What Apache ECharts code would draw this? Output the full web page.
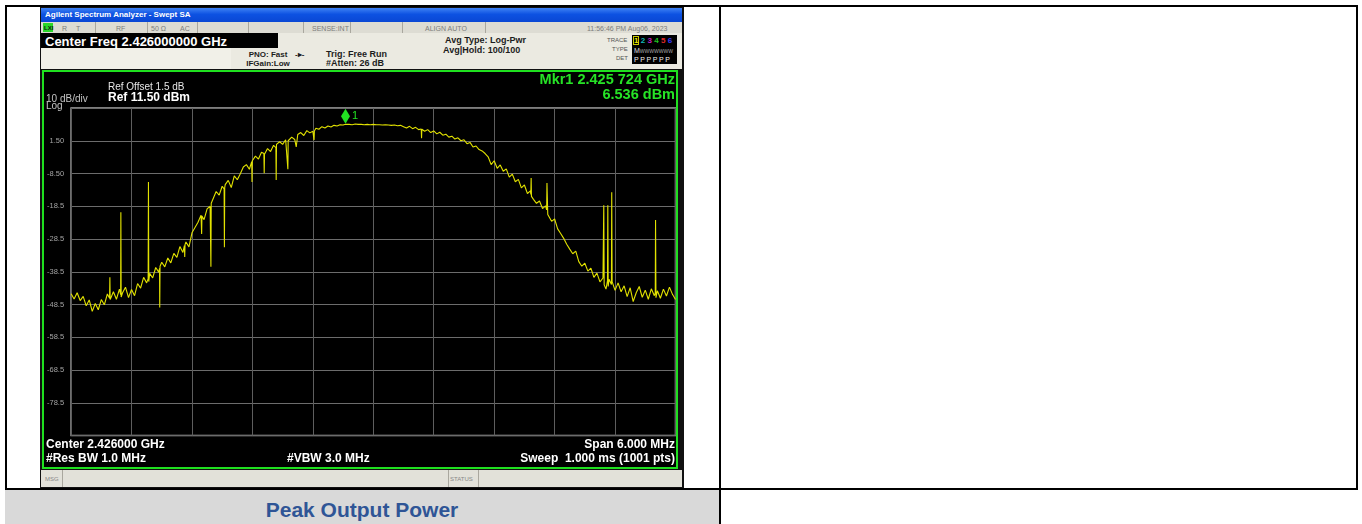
<!DOCTYPE html>
<html>
<head>
<meta charset="utf-8">
<script src="https://cdn.jsdelivr.net/npm/echarts@6/dist/echarts.min.js"></script>
<style>
html, body { margin: 0; padding: 0; background: #fff; }
body { width: 1362px; height: 524px; position: relative; overflow: hidden; font-family: "Liberation Sans", Arial, sans-serif; }
.abs { position: absolute; }
.t { position: absolute; white-space: nowrap; line-height: 1; transform: translateY(-50%); }
.menu { font-size: 7px; color: #7c7c7c; }
.div { position: absolute; width: 1px; background: #a9a79e; }
.hdr { font-weight: bold; font-size: 9px; color: #1c1c1c; }
#chart { position: absolute; left: 44px; top: 72px; width: 632px; height: 395px; }
</style>
</head>
<body>
<!-- table lines -->
<div class="abs" style="left:5px;top:5px;width:1353px;height:2px;background:#000"></div>
<div class="abs" style="left:5px;top:5px;width:2px;height:485px;background:#000"></div>
<div class="abs" style="left:1356px;top:5px;width:2px;height:485px;background:#000"></div>
<div class="abs" style="left:5px;top:490px;width:714px;height:34px;background:#d9d9d9"></div>
<div class="abs" style="left:5px;top:488px;width:1353px;height:2px;background:#000"></div>
<div class="abs" style="left:719px;top:5px;width:2px;height:519px;background:#000"></div>
<div class="t" style="left:5px;width:714px;top:509px;text-align:center;font-weight:bold;font-size:21px;color:#2f5596">Peak Output Power</div>

<!-- analyzer screenshot frame -->
<div class="abs" style="left:40px;top:7px;width:644px;height:481px;background:#111"></div>
<div class="abs" style="left:41px;top:8px;width:641px;height:14px;background:linear-gradient(#3f82f4,#0d52e2 45%,#0a47d4)"></div>
<div class="t" style="left:45px;top:15px;font-weight:bold;font-size:8px;color:#fff">Agilent Spectrum Analyzer - Swept SA</div>

<!-- menu row -->
<div class="abs" style="left:41px;top:22px;width:641px;height:11px;background:#dddcd3"></div>
<div class="abs" style="left:43px;top:23px;width:10px;height:9px;background:#2ad82a"></div>
<div class="t" style="left:44px;top:27.5px;font-size:6px;font-weight:bold;color:#111">LXI</div>
<div class="t menu" style="left:62px;top:27.5px">R</div>
<div class="t menu" style="left:76px;top:27.5px">T</div>
<div class="div" style="left:95px;top:22px;height:11px"></div>
<div class="t menu" style="left:116px;top:27.5px">RF</div>
<div class="div" style="left:147px;top:22px;height:11px"></div>
<div class="t menu" style="left:151px;top:27.5px">50 Ω</div>
<div class="t menu" style="left:180px;top:27.5px">AC</div>
<div class="div" style="left:197px;top:22px;height:11px"></div>
<div class="div" style="left:248px;top:22px;height:11px"></div>
<div class="div" style="left:303px;top:22px;height:11px"></div>
<div class="t menu" style="left:312px;top:27.5px">SENSE:INT</div>
<div class="div" style="left:350px;top:22px;height:11px"></div>
<div class="div" style="left:402px;top:22px;height:11px"></div>
<div class="t menu" style="left:425px;top:27.5px">ALIGN AUTO</div>
<div class="div" style="left:485px;top:22px;height:11px"></div>
<div class="t menu" style="left:587px;top:27.5px">11:56:46 PM Aug06, 2023</div>

<!-- settings panel -->
<div class="abs" style="left:41px;top:33px;width:641px;height:36px;background:#ebeae1"></div>
<div class="abs" style="left:41px;top:48px;width:190px;height:21px;background:#f1f0e8"></div>
<div class="abs" style="left:41px;top:33px;width:237px;height:15px;background:#000"></div>
<div class="t" style="left:45px;top:41px;font-weight:bold;font-size:13px;color:#fff">Center Freq 2.426000000 GHz</div>
<div class="t hdr" style="left:248px;width:40px;text-align:center;top:55px;font-size:8px">PNO: Fast</div>
<div class="t hdr" style="left:244px;width:48px;text-align:center;top:64px;font-size:8px">IFGain:Low</div>
<div class="t hdr" style="left:295px;top:55px;font-size:8px">-▸-</div>
<div class="t hdr" style="left:326px;top:54px">Trig: Free Run</div>
<div class="t hdr" style="left:326px;top:63px">#Atten: 26 dB</div>
<div class="t hdr" style="left:445px;top:40px">Avg Type: Log-Pwr</div>
<div class="t hdr" style="left:443px;top:50px">Avg|Hold: 100/100</div>
<div class="t" style="left:607px;top:40px;font-size:6px;color:#555">TRACE</div>
<div class="t" style="left:612px;top:49px;font-size:6px;color:#555">TYPE</div>
<div class="t" style="left:616px;top:58px;font-size:6px;color:#555">DET</div>
<div class="abs" style="left:632px;top:35px;width:45px;height:29px;background:#000"></div>
<div class="abs" style="left:633px;top:36px;width:6px;height:9px;border:1px solid #c8c800;box-sizing:border-box"></div>
<div class="t" style="left:634px;top:40.5px;font-size:8px;font-weight:bold;letter-spacing:2.3px">
<span style="color:#e8e800">1</span><span style="color:#10b8b8">2</span><span style="color:#c020c0">3</span><span style="color:#20c020">4</span><span style="color:#e02a2a">5</span><span style="color:#3b3bf0">6</span></div>
<div class="t" style="left:634px;top:49.5px;font-size:7px;color:#ddd">M<span style="font-size:5px;color:#aaa">WWWWWWW</span></div>
<div class="t" style="left:634px;top:58.5px;font-size:7px;color:#eee;letter-spacing:1.6px">PPPPPP</div>

<!-- graph window -->
<div class="abs" style="left:42px;top:70px;width:636px;height:399px;border:2px solid #1fe01f;box-sizing:border-box;background:#000"></div>
<div id="chart"></div>

<!-- message row -->
<div class="abs" style="left:41px;top:470px;width:641px;height:17px;background:#e2e1d9"></div>
<div class="t" style="left:45px;top:478.5px;font-size:6px;color:#888">MSG</div>
<div class="div" style="left:62px;top:470px;height:17px"></div>
<div class="div" style="left:448px;top:470px;height:17px"></div>
<div class="t" style="left:450px;top:478.5px;font-size:6px;color:#888">STATUS</div>
<div class="div" style="left:478px;top:470px;height:17px"></div>

<script>
// analyzer settings
const centerGHz = 2.426;
const spanMHz = 6;
const refLevelDbm = 11.5;
const refOffsetDb = 1.5;
const dbPerDiv = 10;
const rbwMHz = 1.0;
const vbwMHz = 3.0;
const sweepMs = 1.0;
const sweepPts = 1001;

// marker 1
const markerGHz = 2.425724;
const markerDbm = 6.536;

// trace: [offset from center (MHz), level (dBm)]
const trace = [
  [-3.00,-45.2],[-2.97,-46.8],[-2.94,-44.9],[-2.91,-47.3],[-2.88,-46.0],[-2.85,-48.9],[-2.82,-47.1],[-2.79,-50.6],
  [-2.76,-48.2],[-2.73,-50.1],[-2.70,-47.0],[-2.67,-48.6],[-2.64,-45.3],
  [-2.618,-46.6],[-2.615,-40.2],[-2.612,-47.0],
  [-2.58,-44.6],[-2.55,-46.9],[-2.52,-43.8],
  [-2.508,-45.5],[-2.506,-20.3],[-2.503,-46.2],
  [-2.49,-45.0],[-2.46,-43.2],[-2.43,-46.4],[-2.40,-43.9],[-2.37,-45.8],[-2.34,-42.1],[-2.31,-43.5],[-2.28,-40.2],[-2.25,-41.9],
  [-2.235,-40.6],[-2.232,-11.1],[-2.229,-41.5],
  [-2.22,-39.0],[-2.19,-40.4],[-2.16,-37.2],[-2.13,-38.6],
  [-2.122,-37.5],[-2.120,-49.4],[-2.117,-36.8],
  [-2.10,-35.6],[-2.07,-37.0],[-2.04,-34.3],[-2.01,-35.8],[-1.98,-32.9],[-1.95,-34.1],[-1.92,-30.8],[-1.89,-32.6],
  [-1.875,-30.5],[-1.872,-34.0],[-1.869,-30.2],
  [-1.86,-29.4],[-1.83,-30.9],[-1.80,-26.6],[-1.77,-25.0],[-1.74,-23.4],[-1.71,-21.2],
  [-1.707,-21.8],[-1.704,-27.0],[-1.701,-21.5],
  [-1.68,-22.6],[-1.65,-19.3],[-1.62,-18.5],
  [-1.615,-19.0],[-1.612,-37.0],[-1.609,-17.6],
  [-1.59,-16.2],[-1.56,-14.0],[-1.53,-15.1],[-1.50,-12.4],
  [-1.481,-13.2],[-1.478,-31.0],[-1.475,-12.8],
  [-1.47,-11.9],[-1.44,-10.6],[-1.41,-12.8],[-1.38,-9.2],[-1.35,-10.4],[-1.32,-8.6],[-1.29,-6.5],[-1.26,-5.8],[-1.23,-7.2],
  [-1.207,-4.9],[-1.204,-11.1],[-1.201,-4.6],
  [-1.17,-3.2],[-1.14,-4.1],[-1.11,-2.0],
  [-1.086,-2.4],[-1.083,-8.4],[-1.080,-2.6],
  [-1.05,-0.9],[-1.02,-1.8],[-0.99,0.1],
  [-0.967,-0.6],[-0.964,-10.5],[-0.961,0.4],
  [-0.93,1.2],[-0.90,0.4],[-0.87,1.8],
  [-0.851,1.3],[-0.848,-7.2],[-0.845,1.5],
  [-0.81,2.6],[-0.78,1.9],[-0.765,-0.4],[-0.75,3.4],[-0.72,4.0],[-0.69,3.1],[-0.66,4.6],[-0.63,3.9],[-0.60,4.4],
  [-0.591,4.8],[-0.588,1.7],[-0.585,4.5],
  [-0.57,5.3],[-0.54,5.0],[-0.51,5.8],[-0.48,5.4],[-0.45,6.0],[-0.42,5.7],[-0.39,6.2],[-0.36,6.0],[-0.33,6.4],[-0.30,6.3],
  [-0.276,6.54],[-0.24,6.5],[-0.21,6.4],[-0.18,6.6],[-0.15,6.5],[-0.12,6.5],[-0.09,6.4],[-0.06,6.5],[-0.03,6.4],[0.00,6.5],
  [0.03,6.4],[0.06,6.4],[0.09,6.3],[0.12,6.4],[0.15,6.3],[0.18,6.2],[0.21,6.3],[0.24,6.1],[0.27,6.2],[0.30,5.8],
  [0.33,5.4],[0.36,5.9],[0.39,5.2],[0.42,5.6],[0.45,4.9],
  [0.476,5.1],[0.479,2.3],[0.482,5.0],
  [0.51,4.4],[0.54,4.9],[0.57,4.0],[0.60,4.5],[0.63,3.6],[0.66,4.1],[0.69,3.2],[0.72,3.5],[0.75,2.6],[0.78,2.9],
  [0.81,2.0],[0.84,2.4],[0.87,1.5],[0.90,1.8],[0.93,0.6],[0.96,1.0],[0.99,-0.4],[1.02,-0.1],[1.05,-1.2],[1.08,-1.6],
  [1.11,-2.4],[1.14,-3.4],[1.17,-5.8],[1.20,-4.6],[1.23,-6.9],[1.26,-5.9],[1.29,-7.8],[1.32,-7.1],[1.35,-9.6],[1.38,-8.7],
  [1.41,-11.0],[1.44,-10.3],[1.47,-12.9],[1.50,-12.0],[1.53,-14.6],[1.56,-13.8],
  [1.564,-14.9],[1.567,-9.9],[1.570,-15.5],
  [1.59,-16.4],[1.62,-17.6],[1.65,-16.9],[1.68,-19.2],[1.71,-18.4],
  [1.721,-19.6],[1.724,-11.4],[1.729,-11.6],[1.732,-21.0],
  [1.74,-20.6],[1.77,-23.1],[1.80,-22.4],[1.83,-25.4],[1.86,-26.8],[1.89,-28.3],[1.92,-30.1],[1.95,-31.6],[1.98,-33.0],
  [2.01,-32.2],[2.04,-35.4],[2.07,-36.8],[2.10,-35.9],[2.13,-38.3],[2.16,-37.4],[2.19,-40.2],[2.22,-38.9],[2.25,-41.6],[2.28,-40.4],
  [2.285,-41.0],[2.288,-18.2],[2.292,-42.5],
  [2.31,-43.8],
  [2.325,-41.2],[2.328,-18.2],[2.332,-43.0],
  [2.34,-40.8],
  [2.364,-42.4],[2.367,-14.2],[2.371,-41.5],
  [2.40,-44.2],[2.43,-41.9],[2.46,-44.6],[2.49,-42.8],[2.52,-46.1],[2.55,-43.4],[2.58,-47.6],[2.61,-44.9],[2.64,-43.0],
  [2.67,-46.3],[2.70,-44.1],[2.73,-46.9],[2.76,-43.7],[2.79,-45.8],
  [2.799,-45.0],[2.802,-22.7],[2.806,-46.4],
  [2.82,-44.3],[2.85,-46.6],[2.88,-43.8],[2.91,-45.9],[2.94,-43.2],[2.97,-45.4],[3.00,-47.0]
]

const chart = echarts.init(document.getElementById('chart'))

const markerOffsetMHz = (markerGHz - centerGHz) * 1000
const mkrStr = markerGHz.toFixed(6)
const bottomLevel = refLevelDbm - dbPerDiv * 10

const txt = (text, x, y, font, fill, align) => ({
  type: 'text',
  x: x,
  y: y,
  silent: true,
  style: {
    text: text,
    font: font,
    fill: fill,
    textAlign: align || 'left',
    textVerticalAlign: 'middle',
    align: align || 'left',
    verticalAlign: 'middle'
  }
})

const FONT = '"Liberation Sans", Arial, sans-serif'

const option = {
  animation: false,
  backgroundColor: '#000',
  grid: {
    left: 25,
    right: 0.5,
    top: 36,
    bottom: 31.5,
    show: true,
    borderColor: '#a8a8a8',
    borderWidth: 1.5,
    backgroundColor: 'transparent'
  },
  xAxis: {
    type: 'value',
    min: -spanMHz / 2,
    max: spanMHz / 2,
    interval: spanMHz / 10,
    axisLine: { show: false },
    axisTick: { show: false },
    axisLabel: { show: false },
    splitLine: { lineStyle: { color: '#5e5e5e', width: 1 } }
  },
  yAxis: {
    type: 'value',
    min: bottomLevel,
    max: refLevelDbm,
    interval: dbPerDiv,
    axisLine: { show: false },
    axisTick: { show: false },
    axisLabel: {
      showMinLabel: false,
      showMaxLabel: false,
      color: '#a4a4a4',
      fontSize: 7.5,
      fontFamily: FONT,
      margin: 7,
      formatter: (v) => Math.abs(v) < 10 ? v.toFixed(2) : v.toFixed(1)
    },
    splitLine: { lineStyle: { color: '#6c6c6c', width: 1 } }
  },
  series: [
    {
      type: 'line',
      data: trace,
      showSymbol: false,
      silent: true,
      lineStyle: { color: '#e2e200', width: 1.1 },
      markPoint: {
        symbol: 'diamond',
        symbolSize: [9, 15],
        symbolOffset: [0, -8],
        itemStyle: { color: '#22e022' },
        label: {
          show: true,
          position: 'right',
          distance: 2,
          formatter: '1',
          color: '#22e022',
          fontSize: 11,
          fontFamily: FONT
        },
        data: [{ coord: [markerOffsetMHz, markerDbm] }]
      }
    }
  ],
  graphic: [
    txt('Mkr1 ' + mkrStr.slice(0, 5) + ' ' + mkrStr.slice(5) + ' GHz', 631, 8, 'bold 14.5px ' + FONT, '#26e326', 'right'),
    txt(markerDbm.toFixed(3) + ' dBm', 631, 23, 'bold 14.5px ' + FONT, '#26e326', 'right'),
    txt('Ref Offset ' + refOffsetDb.toFixed(1) + ' dB', 64, 15, '10px ' + FONT, '#e6e6e6'),
    txt('Ref ' + refLevelDbm.toFixed(2) + ' dBm', 64, 26, 'bold 12px ' + FONT, '#ffffff'),
    txt(dbPerDiv + ' dB/div', 2, 27, '10px ' + FONT, '#c4c4c4'),
    txt('Log', 2, 34.5, '10px ' + FONT, '#c4c4c4'),
    txt('Center ' + centerGHz.toFixed(6) + ' GHz', 2, 373, 'bold 12px ' + FONT, '#ffffff'),
    txt('#Res BW ' + rbwMHz.toFixed(1) + ' MHz', 2, 386.5, 'bold 12px ' + FONT, '#ffffff'),
    txt('#VBW ' + vbwMHz.toFixed(1) + ' MHz', 243, 386.5, 'bold 12px ' + FONT, '#ffffff'),
    txt('Span ' + spanMHz.toFixed(3) + ' MHz', 631, 373, 'bold 12px ' + FONT, '#ffffff', 'right'),
    txt('Sweep  ' + sweepMs.toFixed(3) + ' ms (' + sweepPts + ' pts)', 631, 386.5, 'bold 12px ' + FONT, '#ffffff', 'right')
  ]
}

chart.setOption(option)
</script>
</body>
</html>
